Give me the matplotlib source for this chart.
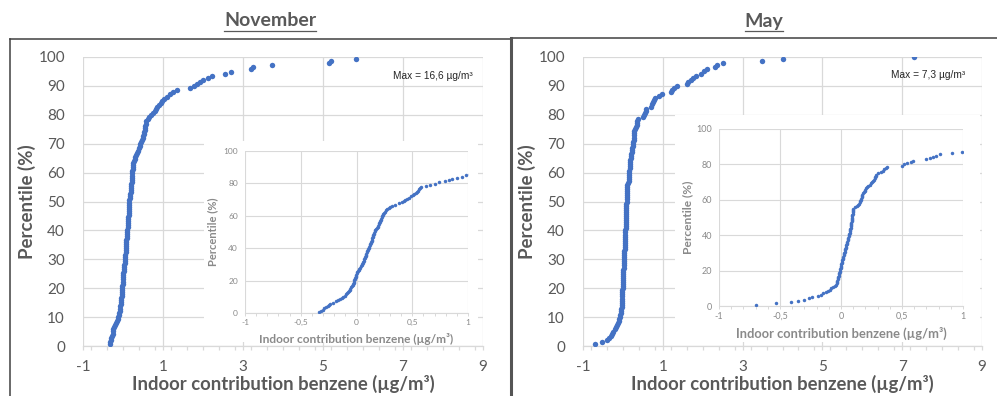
import numpy as np
import matplotlib.pyplot as plt
from matplotlib.lines import Line2D
from matplotlib.patches import Rectangle
from matplotlib.ticker import MultipleLocator, FuncFormatter

plt.rcParams["axes.unicode_minus"] = False

# Indoor contribution of benzene per home (µg/m³), sorted low to high
NOV_VALUES = [
    -0.335, -0.318, -0.300, -0.288, -0.274, -0.260, -0.248, -0.238, -0.215, -0.188,
    -0.168, -0.150, -0.134, -0.118, -0.107, -0.096, -0.086, -0.076, -0.068, -0.062,
    -0.056, -0.048, -0.040, -0.033, -0.029, -0.025, -0.021, -0.018, -0.015, -0.012,
    -0.008, -0.004, -0.001, 0.003, 0.008, 0.014, 0.020, 0.026, 0.032, 0.039,
    0.047, 0.052, 0.057, 0.062, 0.067, 0.071, 0.075, 0.078, 0.081, 0.084,
    0.087, 0.091, 0.096, 0.101, 0.106, 0.111, 0.115, 0.119, 0.123, 0.127,
    0.131, 0.135, 0.139, 0.142, 0.145, 0.149, 0.152, 0.155, 0.158, 0.162,
    0.166, 0.173, 0.182, 0.190, 0.197, 0.202, 0.206, 0.210, 0.214, 0.219,
    0.223, 0.227, 0.231, 0.236, 0.241, 0.246, 0.252, 0.262, 0.275, 0.289,
    0.302, 0.315, 0.345, 0.380, 0.410, 0.426, 0.437, 0.450, 0.475, 0.492,
    0.508, 0.520, 0.530, 0.539, 0.548, 0.558, 0.566, 0.580, 0.620, 0.660,
    0.700, 0.740, 0.790, 0.830, 0.860, 0.900, 0.950, 0.980, 1.020, 1.100,
    1.180, 1.260, 1.340, 1.670, 1.770, 1.840, 1.920, 2.000, 2.120, 2.220,
    2.550, 2.700, 3.200, 3.240, 3.720, 5.160, 5.190, 5.820, 16.6,
]
MAY_VALUES = [
    -0.700, -0.530, -0.410, -0.355, -0.305, -0.265, -0.238, -0.190, -0.165, -0.145,
    -0.127, -0.110, -0.094, -0.080, -0.062, -0.052, -0.043, -0.036, -0.033, -0.030,
    -0.027, -0.024, -0.021, -0.019, -0.016, -0.014, -0.012, -0.009, -0.007, -0.004,
    -0.001, 0.001, 0.003, 0.005, 0.008, 0.010, 0.013, 0.016, 0.019, 0.021,
    0.023, 0.026, 0.029, 0.032, 0.035, 0.038, 0.041, 0.045, 0.048, 0.050,
    0.053, 0.056, 0.059, 0.060, 0.062, 0.065, 0.067, 0.070, 0.072, 0.074,
    0.076, 0.078, 0.080, 0.082, 0.084, 0.086, 0.087, 0.089, 0.090, 0.091,
    0.092, 0.093, 0.095, 0.096, 0.097, 0.099, 0.100, 0.112, 0.130, 0.143,
    0.150, 0.154, 0.158, 0.162, 0.165, 0.169, 0.172, 0.176, 0.181, 0.187,
    0.193, 0.199, 0.208, 0.216, 0.225, 0.236, 0.246, 0.255, 0.265, 0.274,
    0.278, 0.282, 0.286, 0.290, 0.300, 0.330, 0.345, 0.355, 0.365, 0.375,
    0.500, 0.520, 0.545, 0.570, 0.590, 0.700, 0.730, 0.755, 0.780, 0.810,
    0.910, 0.990, 1.210, 1.240, 1.280, 1.350, 1.610, 1.640, 1.700, 1.750,
    1.830, 1.950, 2.030, 2.100, 2.320, 2.350, 2.520, 3.480, 4.000, 7.300,
]
MONTHS = ["November", "May"]
MAX_LABELS = ["Max = 16,6 µg/m³", "Max = 7,3 µg/m³"]

MAIN_XTICKS = [-1, 1, 3, 5, 7, 9]
MAIN_YTICKS = list(range(0, 101, 10))
INSET_XTICKS = [-1, -0.5, 0, 0.5, 1]
INSET_YTICKS = list(range(0, 101, 20))

BLUE = "#4472C4"
GRID = "#d9d9d9"
TEXT = "#595959"
INSET_TEXT = "#8a8a8a"
FONT = "Lato"

W, H = 997, 396


def percentile_rank(values):
    n = len(values)
    return np.arange(1, n + 1) / n * 100.0


def px_box(x0, y0, x1, y1):
    # pixel box (top-left origin) -> figure fraction rect
    return [x0 / W, 1 - y1 / H, (x1 - x0) / W, (y1 - y0) / H]


def style_main(ax):
    ax.set_xlim(-1, 9)
    ax.set_ylim(0, 100)
    ax.set_xticks(MAIN_XTICKS)
    ax.set_yticks(MAIN_YTICKS)
    ax.xaxis.set_minor_locator(MultipleLocator(0.4))
    ax.grid(True, which="major", color=GRID, lw=0.9, zorder=0)
    ax.set_axisbelow(True)
    for s in ["top", "right", "left"]:
        ax.spines[s].set_visible(False)
    ax.spines["bottom"].set_color(GRID)
    ax.spines["bottom"].set_linewidth(0.9)
    ax.tick_params(axis="x", which="both", length=3, color=GRID, width=0.9,
                   pad=7, labelsize=11, labelcolor=TEXT)
    ax.tick_params(axis="y", length=0, pad=13, labelsize=11, labelcolor=TEXT)
    for lab in ax.get_xticklabels() + ax.get_yticklabels():
        lab.set_fontfamily(FONT)
    ax.set_xlabel("Indoor contribution benzene (µg/m³)", fontsize=13.3,
                  fontweight="bold", color=TEXT, family=FONT)
    ax.set_ylabel("Percentile (%)", fontsize=13.5, fontweight="bold",
                  color=TEXT, family=FONT)
    ax.xaxis.set_label_coords(0.5, -0.101)
    ax.yaxis.set_label_coords(-0.118, 0.5)


def style_inset(ax, scale):
    ax.set_xlim(-1, 1)
    ax.set_ylim(0, 100)
    ax.set_xticks(INSET_XTICKS)
    ax.set_yticks(INSET_YTICKS)
    ax.xaxis.set_major_formatter(FuncFormatter(lambda v, p: f"{v:g}".replace(".", ",")))
    ax.xaxis.set_minor_locator(MultipleLocator(0.1))
    ax.grid(True, which="major", color=GRID, lw=0.8)
    ax.set_axisbelow(True)
    for s in ["top", "right", "left"]:
        ax.spines[s].set_visible(False)
    ax.spines["bottom"].set_color(GRID)
    ax.spines["bottom"].set_linewidth(0.8)
    ax.tick_params(axis="x", which="both", length=2, color=GRID, width=0.7,
                   pad=2, labelsize=6 * scale, labelcolor=INSET_TEXT)
    ax.tick_params(axis="y", length=0, pad=5, labelsize=6 * scale,
                   labelcolor=INSET_TEXT)
    for lab in ax.get_xticklabels() + ax.get_yticklabels():
        lab.set_fontfamily(FONT)
    ax.set_xlabel("Indoor contribution benzene (µg/m³)", fontsize=8.6 * scale,
                  fontweight="bold", color=INSET_TEXT, family=FONT)
    ax.set_ylabel("Percentile (%)", fontsize=8.0 * scale, fontweight="bold",
                  color=INSET_TEXT, family=FONT)


fig = plt.figure(figsize=(W / 100, H / 100), dpi=100)
fig.patch.set_facecolor("white")

datasets = [NOV_VALUES, MAY_VALUES]
main_boxes = [px_box(83, 57, 483, 346), px_box(583, 57, 982, 346)]
inset_boxes = [px_box(245, 151, 468, 313), px_box(719, 129, 963, 306)]
inset_panels = [(204, 141, 478, 342), (675, 115, 980, 342)]
inset_scales = [1.0, 1.08]
inset_label_y = [-0.125, -0.12]
inset_label_x = [-0.12, -0.105]
title_x = [270, 764]
max_pos = [(8.75, 93.4), (8.57, 93.8)]

titles = []
for i, vals in enumerate(datasets):
    x = np.array(vals)
    y = percentile_rank(vals)

    ax = fig.add_axes(main_boxes[i])
    ax.set_facecolor("none")
    ax.plot(x, y, "o", ms=3.9, mec="none", color=BLUE, zorder=3)
    style_main(ax)
    ax.text(*max_pos[i], MAX_LABELS[i], ha="right", va="center", fontsize=7.3,
            family="Liberation Sans", color="#262626")

    # white panel behind the zoomed view
    x0, y0, x1, y1 = inset_panels[i]
    fig.patches.append(Rectangle(px_box(x0, y0, x1, y1)[:2],
                                 (x1 - x0) / W, (y1 - y0) / H,
                                 transform=fig.transFigure, facecolor="white",
                                 edgecolor="none", zorder=1))

    ins = fig.add_axes(inset_boxes[i], zorder=2)
    ins.set_facecolor("white")
    ins.plot(x, y, "o", ms=2.5, mec="none", color=BLUE, zorder=3)
    style_inset(ins, inset_scales[i])
    ins.xaxis.set_label_coords(0.5, inset_label_y[i])
    ins.yaxis.set_label_coords(inset_label_x[i], 0.5)

    titles.append(fig.text(title_x[i] / W, 1 - 21 / H, MONTHS[i], ha="center",
                           va="center", fontsize=14, fontweight="bold",
                           color=TEXT, family=FONT))

# frames around the two panels
frame = dict(color="#404040", lw=1.1, transform=fig.transFigure)
fig.add_artist(Line2D([10 / W, 510 / W], [1 - 39 / H, 1 - 39 / H], **frame))
fig.add_artist(Line2D([10 / W, 10 / W], [1 - 39 / H, 0], **frame))
fig.add_artist(Line2D([511 / W, 1], [1 - 38 / H, 1 - 38 / H], **frame))
fig.add_artist(Line2D([511 / W, 511 / W], [1 - 38 / H, 0], color="#555555",
                      lw=2.2, transform=fig.transFigure))

# underline the month titles
fig.canvas.draw()
renderer = fig.canvas.get_renderer()
for t in titles:
    bb = t.get_window_extent(renderer)
    yb = (bb.y0 - 1) / H
    fig.add_artist(Line2D([bb.x0 / W, bb.x1 / W], [yb, yb], color=TEXT, lw=0.9,
                          transform=fig.transFigure))

fig.savefig("out.png", dpi=100)
